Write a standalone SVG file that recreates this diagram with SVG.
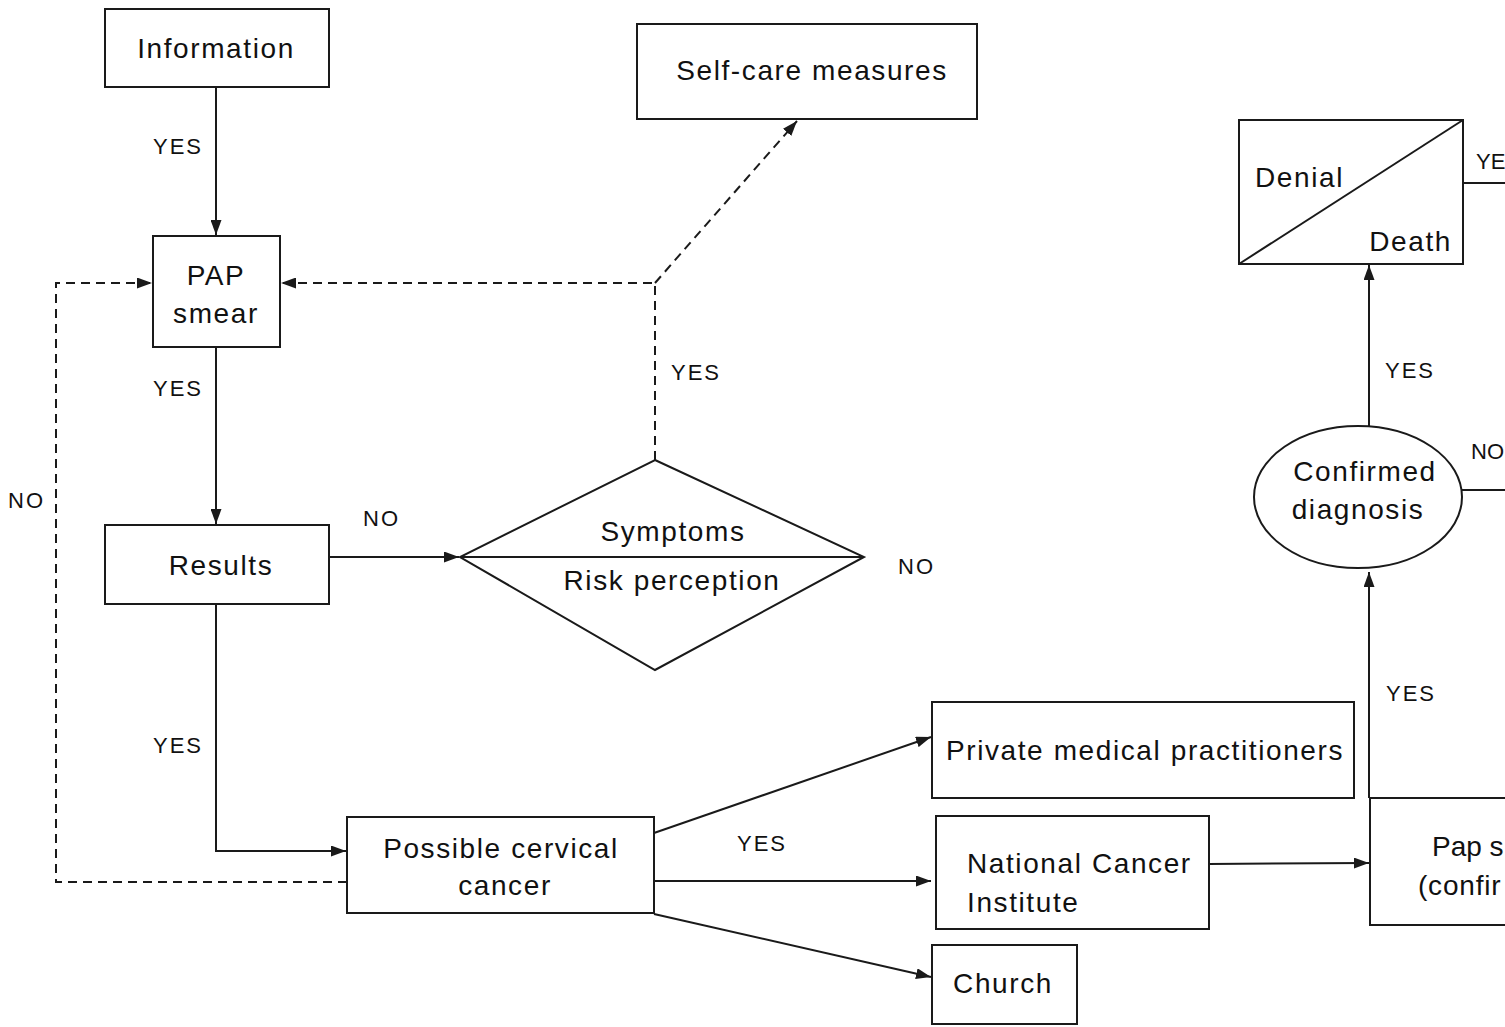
<svg xmlns="http://www.w3.org/2000/svg" width="1505" height="1027" viewBox="0 0 1505 1027">
<style>
.box{fill:#fff;stroke:#1a1a1a;stroke-width:2}
.t{font-family:"Liberation Sans",Arial,sans-serif;font-size:28px;letter-spacing:1.6px;fill:#111}
.m{text-anchor:middle}
.l{font-family:"Liberation Sans",Arial,sans-serif;font-size:22px;letter-spacing:2px;fill:#111}
.c{fill:none;stroke:#1a1a1a;stroke-width:2}
.d{stroke-dasharray:9 6}
</style>
<defs>
<marker id="a" viewBox="0 0 15 11" refX="15" refY="5.5" markerWidth="15" markerHeight="11" markerUnits="userSpaceOnUse" orient="auto">
<path d="M0,0 L15,5.5 L0,11 z" fill="#1a1a1a"/>
</marker>
</defs>
<rect width="1505" height="1027" fill="#fff"/>
<g id="connectors">
<path class="c" d="M216,87 V235" marker-end="url(#a)"/>
<path class="c" d="M216,347 V524" marker-end="url(#a)"/>
<path class="c" d="M216,604 V851 H346" marker-end="url(#a)"/>
<path class="c" d="M329,557 H459" marker-end="url(#a)"/>
<path class="c d" d="M655,460 V283 H281" marker-end="url(#a)"/>
<path class="c d" d="M655,283 L797,121" marker-end="url(#a)"/>
<path class="c d" d="M347,882 H56 V283 H152" marker-end="url(#a)"/>
<path class="c" d="M654,833 L931,737" marker-end="url(#a)"/>
<path class="c" d="M654,881 H931" marker-end="url(#a)"/>
<path class="c" d="M654,914 L931,977" marker-end="url(#a)"/>
<path class="c" d="M1209,864 L1369,863" marker-end="url(#a)"/>
<path class="c" d="M1369,798 V572" marker-end="url(#a)"/>
<path class="c" d="M1369,426 V265" marker-end="url(#a)"/>
<path class="c" d="M1463,183 H1505"/>
<path class="c" d="M1462,490 H1505"/>
<text class="l" x="153" y="154">YES</text>
<text class="l" x="153" y="396">YES</text>
<text class="l" x="153" y="753">YES</text>
<text class="l" x="671" y="380">YES</text>
<text class="l" x="737" y="851">YES</text>
<text class="l" x="1385" y="378">YES</text>
<text class="l" x="1386" y="701">YES</text>
<text class="l" x="1476" y="169" style="letter-spacing:0">YE</text>
<text class="l" x="1471" y="459" style="letter-spacing:0">NO</text>
<text class="l" x="8" y="508">NO</text>
<text class="l" x="363" y="526">NO</text>
<text class="l" x="898" y="574">NO</text>
</g>
<g id="information">
<rect class="box" x="105" y="9" width="224" height="78"/>
<text class="t m" x="216" y="58">Information</text>
</g>
<g id="self-care">
<rect class="box" x="637" y="24" width="340" height="95"/>
<text class="t m" x="812" y="80">Self-care measures</text>
</g>
<g id="pap-smear">
<rect class="box" x="153" y="236" width="127" height="111"/>
<text class="t m" x="216" y="285">PAP</text>
<text class="t m" x="216" y="323">smear</text>
</g>
<g id="results">
<rect class="box" x="105" y="525" width="224" height="79"/>
<text class="t m" x="221" y="575">Results</text>
</g>
<g id="symptoms">
<path class="box" d="M655,460 L864,557 L655,670 L460,557 z"/>
<path class="c" d="M460,557 H864"/>
<text class="t m" x="673" y="541">Symptoms</text>
<text class="t m" x="672" y="590">Risk perception</text>
</g>
<g id="possible-cancer">
<rect class="box" x="347" y="817" width="307" height="96"/>
<text class="t m" x="501" y="858">Possible cervical</text>
<text class="t m" x="505" y="895">cancer</text>
</g>
<g id="private">
<rect class="box" x="932" y="702" width="422" height="96"/>
<text class="t m" x="1145" y="760">Private medical practitioners</text>
</g>
<g id="nci">
<rect class="box" x="936" y="816" width="273" height="113"/>
<text class="t" x="967" y="873">National Cancer</text>
<text class="t" x="967" y="912">Institute</text>
</g>
<g id="church">
<rect class="box" x="932" y="945" width="145" height="79"/>
<text class="t m" x="1003" y="993">Church</text>
</g>
<g id="pap-confirm">
<rect class="box" x="1370" y="798" width="140" height="127"/>
<text class="t" x="1432" y="856" style="letter-spacing:0">Pap s</text>
<text class="t" x="1418" y="895" style="letter-spacing:0.8px">(confir</text>
</g>
<g id="denial-death">
<rect class="box" x="1239" y="120" width="224" height="144"/>
<path class="c" d="M1239,264 L1463,120"/>
<text class="t" x="1255" y="187">Denial</text>
<text class="t" x="1452" y="251" text-anchor="end">Death</text>
</g>
<g id="confirmed">
<ellipse class="box" cx="1358" cy="497" rx="104" ry="71"/>
<text class="t m" x="1365" y="481">Confirmed</text>
<text class="t m" x="1358" y="519">diagnosis</text>
</g>
</svg>
